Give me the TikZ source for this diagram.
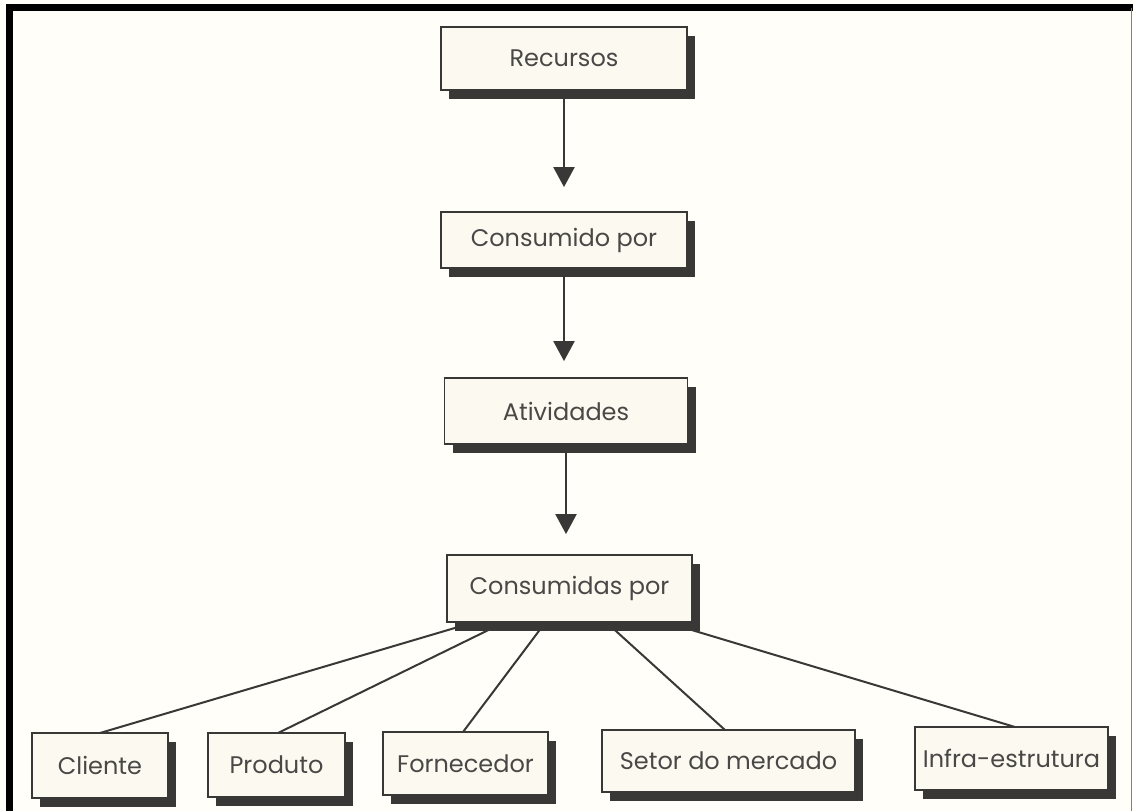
\documentclass[tikz,border=0pt]{standalone}
\usepackage{fontspec}
\setmainfont{Poppins}
\usetikzlibrary{arrows.meta,shadows}
\definecolor{paper}{HTML}{FFFEF9}
\definecolor{boxfill}{HTML}{FCFAF0}
\definecolor{ink}{HTML}{3A3836}
\definecolor{txt}{HTML}{4A4846}
\begin{document}
\begin{tikzpicture}[x=1pt,y=-1pt,
  card/.style={draw=ink, line width=1.8pt, fill=boxfill, text=txt,
    font=\fontsize{24}{28}\selectfont, inner sep=0pt,
    drop shadow={shadow xshift=8pt, shadow yshift=-9pt, fill=ink, opacity=1}},
  flow/.style={draw=ink, line width=2.2pt, -{Triangle[length=20pt,width=21pt]}},
  branch/.style={draw=ink, line width=2pt}]
  % page and frame
  \fill[paper] (0,0) rectangle (1133,811);
  \useasboundingbox (0,0) rectangle (1133,811);
  \draw[black, line width=7.5pt] (9.5,811) -- (9.5,7.5) -- (1133,7.5);
  \draw[gray, line width=1pt] (1131.5,7.5) -- (1131.5,811);

  % main chain
  \node[card, minimum width=246pt, minimum height=63pt] (rec) at (564,58.5) {Recursos};
  \node[card, minimum width=246pt, minimum height=56pt] (con) at (564,240) {Consumido por};
  \node[card, minimum width=243pt, minimum height=66pt] (ati) at (566,411) {Atividades};
  \node[card, minimum width=245pt, minimum height=67pt] (cps) at (569.5,588.5) {Consumidas por};

  \draw[flow, shorten >=24pt] (rec.south) -- (con.north);
  \draw[flow, shorten >=16pt] (con.south) -- (con.south |- ati.north);
  \draw[flow, shorten >=20pt] (ati.south) -- (ati.south |- cps.north);

  % cost objects
  \coordinate (b1) at (100,733);
  \coordinate (b2) at (278,733);
  \coordinate (b3) at (463,732);
  \coordinate (b4) at (725,730);
  \coordinate (b5) at (1015,727);
  \draw[branch] ([xshift=-97.5pt]cps.south) -- (b1);
  \draw[branch] ([xshift=-66.5pt]cps.south) -- (b2);
  \draw[branch] ([xshift=-24.5pt]cps.south) -- (b3);
  \draw[branch] ([xshift=37.5pt]cps.south) -- (b4);
  \draw[branch] ([xshift=98.5pt]cps.south) -- (b5);

  \node[card, minimum width=136pt, minimum height=65pt] (cli) at (100,765.5) {Cliente};
  \node[card, minimum width=137pt, minimum height=64pt] (pro) at (276.5,765) {Produto};
  \node[card, minimum width=165pt, minimum height=63pt] (for) at (465.5,763.5) {Fornecedor};
  \node[card, minimum width=253pt, minimum height=62pt] (set) at (728.5,761) {Setor do mercado};
  \node[card, minimum width=193pt, minimum height=63pt] (inf) at (1011.5,758.5) {Infra-estrutura};
\end{tikzpicture}
\end{document}
